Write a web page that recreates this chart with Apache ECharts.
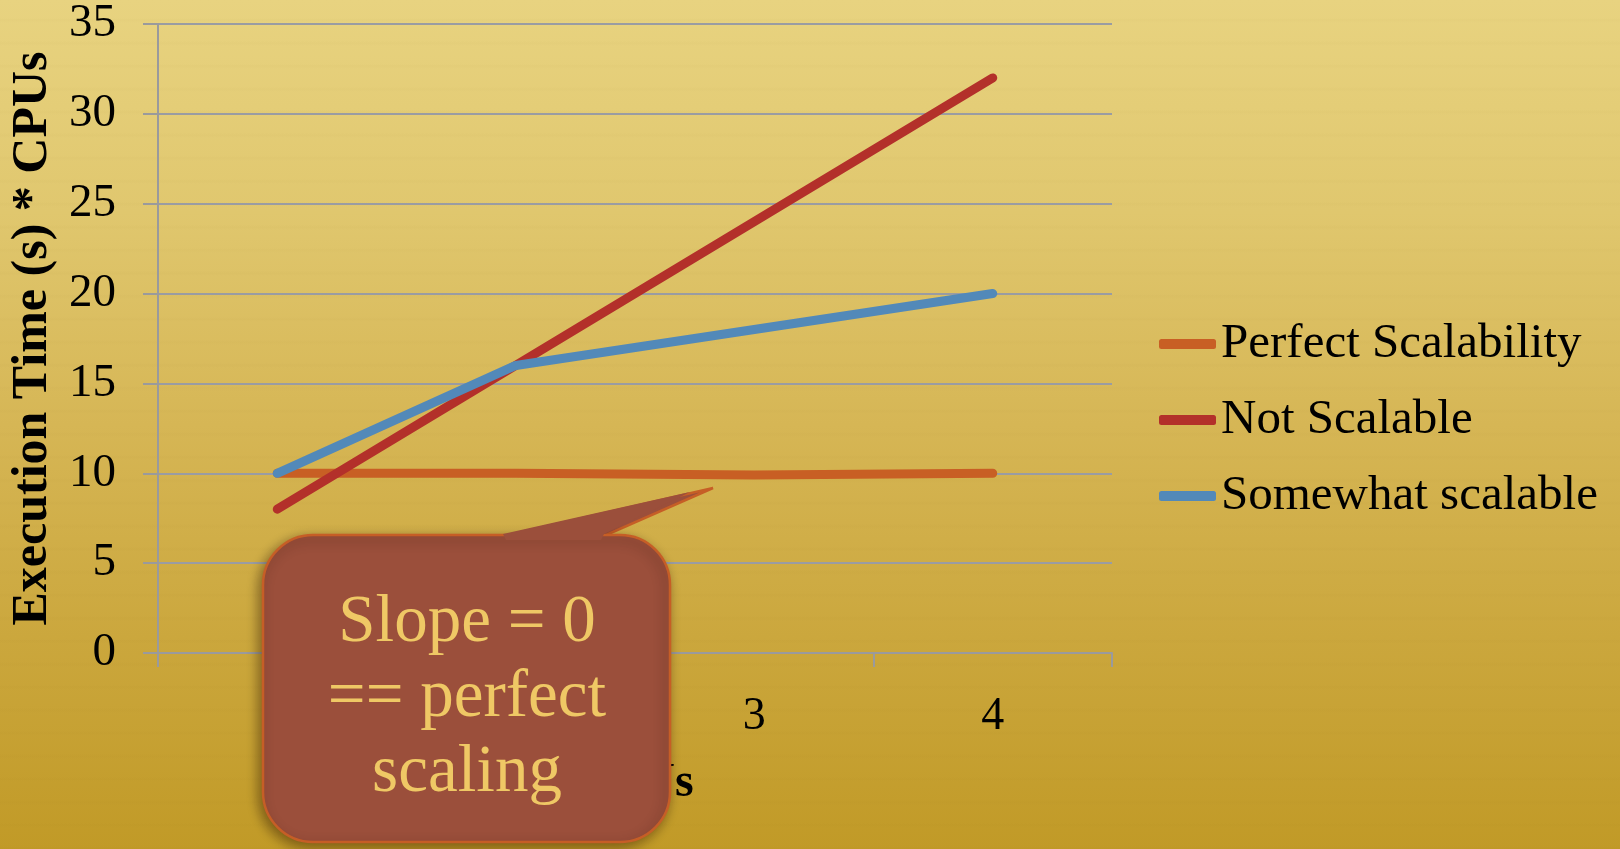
<!DOCTYPE html>
<html>
<head>
<meta charset="utf-8">
<script src="https://cdn.jsdelivr.net/npm/echarts@6/dist/echarts.min.js"></script>
<style>
html,body{margin:0;padding:0;}
#chart{width:1620px;height:849px;
background:
 repeating-linear-gradient(180deg, rgba(0,0,0,0) 0px, rgba(0,0,0,0) 18px, rgba(110,80,0,0.02) 20px, rgba(0,0,0,0) 23px),
 linear-gradient(180deg, #E8D380 0%, #E0C76E 25%, #D6B655 50%, #CBA73D 75%, #C19A27 100%);}
</style>
</head>
<body>
<div id="chart"></div>
<script>
const categories = ['1', '2', '3', '4'];
const perfectScalability = [10, 10, 9.9, 10];
const notScalable = [8, 16, 24, 32];
const somewhatScalable = [10, 16, 18, 20];
const seriesNames = ['Perfect Scalability', 'Not Scalable', 'Somewhat scalable'];
const seriesColors = ['#C85F24', '#B3302A', '#5289B9'];

const serif = '"Liberation Serif", "DejaVu Serif", serif';
const chart = echarts.init(document.getElementById('chart'), null, {renderer: 'canvas'});

function lineSeries(name, data, color) {
  return {
    name: name, type: 'line', data: data, symbol: 'none', smooth: false,
    itemStyle: {color: color},
    lineStyle: {color: color, width: 9, cap: 'round', join: 'round'},
    emphasis: {disabled: true}
  };
}

const calloutFill = '#9B4F3B';
const calloutStroke = '#C65E26';

const option = {
  backgroundColor: 'transparent',
  animation: false,
  grid: {left: 158, right: 508, top: 24, bottom: 196, containLabel: false},
  legend: {
    orient: 'vertical', left: 1159, top: 316, padding: 0,
    itemWidth: 57, itemHeight: 10, itemGap: 20, icon: 'roundRect',
    textStyle: {fontFamily: serif, fontSize: 49, color: '#000', lineHeight: 56},
    data: seriesNames
  },
  xAxis: {
    type: 'category', data: categories, boundaryGap: true,
    name: 'CPUs', nameLocation: 'middle', nameGap: 107,
    nameTextStyle: {fontFamily: serif, fontSize: 48, fontWeight: 'bold', color: '#000'},
    axisLine: {show: true, lineStyle: {color: '#9A9A9C', width: 2}},
    axisTick: {show: true, alignWithLabel: false, length: 14, lineStyle: {color: '#9A9A9C', width: 2}},
    axisLabel: {fontFamily: serif, fontSize: 46, color: '#000', margin: 41},
    splitLine: {show: false}
  },
  yAxis: {
    type: 'value', min: 0, max: 35, interval: 5,
    name: 'Execution Time (s) * CPUs', nameLocation: 'middle', nameGap: 100,
    nameTextStyle: {fontFamily: serif, fontSize: 50, fontWeight: 'bold', color: '#000'},
    axisLine: {show: true, lineStyle: {color: '#9A9A9C', width: 2}},
    axisTick: {show: true, length: 15, lineStyle: {color: '#9A9A9C', width: 2}},
    axisLabel: {fontFamily: serif, fontSize: 47, color: '#000', margin: 42},
    splitLine: {show: true, lineStyle: {color: '#9A9CA2', width: 2}}
  },
  series: [
    lineSeries(seriesNames[0], perfectScalability, seriesColors[0]),
    lineSeries(seriesNames[1], notScalable, seriesColors[1]),
    lineSeries(seriesNames[2], somewhatScalable, seriesColors[2])
  ],
  graphic: [
    {
      type: 'polygon', z: 100,
      shape: {points: [[504, 536], [713, 488], [604, 536]]},
      style: {fill: calloutFill, stroke: calloutStroke, lineWidth: 2.5}
    },
    {
      type: 'rect', z: 101,
      shape: {x: 263, y: 535, width: 407, height: 307, r: 50},
      style: {fill: calloutFill, stroke: calloutStroke, lineWidth: 2.5,
        shadowBlur: 12, shadowColor: 'rgba(40,20,0,0.45)', shadowOffsetX: -3, shadowOffsetY: 4}
    },
    {
      type: 'polygon', z: 102,
      shape: {points: [[506, 540], [503, 534], [690, 492], [604, 534], [601, 540]]},
      style: {fill: calloutFill}
    },
    {
      type: 'text', z: 103, x: 467, y: 698,
      style: {text: 'Slope = 0\n== perfect\nscaling', fill: '#EFC865',
        font: '67px ' + serif, lineHeight: 75, align: 'center', verticalAlign: 'middle'}
    }
  ]
};
chart.setOption(option);
</script>
</body>
</html>
